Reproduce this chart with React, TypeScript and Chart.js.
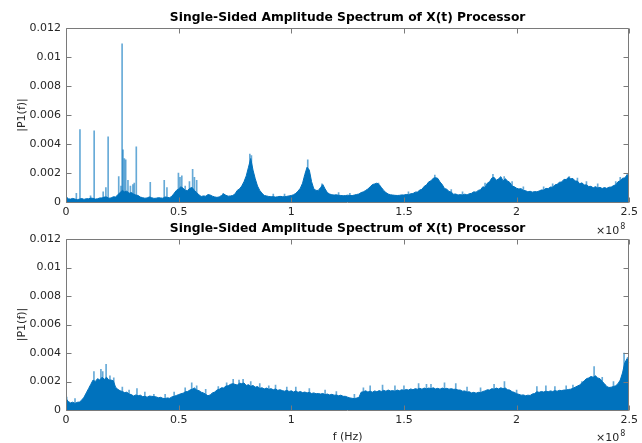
import React, { useEffect, useRef } from "react";
import { Chart, registerables } from "chart.js";

Chart.register(...registerables);

// ---------- data ----------
const TITLE = "Single-Sided Amplitude Spectrum of X(t) Processor";
const Y_LABEL = "|P1(f)|";
const X_LABEL = "f (Hz)";
const X_TICKS_E8 = [0, 0.5, 1, 1.5, 2, 2.5];
const Y_TICKS = [0, 0.002, 0.004, 0.006, 0.008, 0.01, 0.012];
const FREQ_STEP_MHZ = 1; // envelope sample spacing
const AMP_UNIT = 1e-4; // amplitudes below are in units of 1e-4

// upper subplot: spectrum envelope, 0..250 MHz every 1 MHz
const topEnvelope = [
  3, 2.2, 2, 2.5, 2, 1.6, 2, 2.4, 1.8, 2.3,
  2.2, 2.7, 2.5, 2, 2.2, 2.8, 2.8, 3.4, 3.5, 2.6,
  2.8, 3.6, 3.5, 5, 6.5, 8, 7, 7.5, 6, 6.5,
  5.5, 4.8, 4.5, 3.4, 3, 2.6, 2.8, 3.5, 3, 2.5,
  2.6, 3, 2.8, 2.6, 3.5, 3.2, 3, 4, 6, 8,
  9, 10.5, 9.5, 8, 8, 9.5, 10, 8, 6.5, 5,
  3.8, 4.2, 4, 5, 4.8, 4, 3.5, 3.2, 3.5, 4.5,
  5.5, 4.6, 4, 4.2, 4.5, 5.5, 8, 9, 11, 14,
  18, 24, 30, 22, 16, 11, 8, 6, 4.5, 4.2,
  3.8, 3.6, 3.7, 3.4, 3.6, 3.9, 3.7, 3.6, 3.9, 4.2,
  4.5, 5, 6, 7.5, 9.5, 13, 19, 24, 22, 14,
  9, 8, 8, 10, 12, 9, 6.5, 5.5, 5, 4.8,
  5, 4.6, 4.5, 4.3, 4.4, 4.7, 4.5, 4.4, 4.8, 5.2,
  5.5, 6.5, 7, 8, 9, 10.5, 12, 12.5, 13, 12,
  10, 8, 6.5, 5.5, 5, 4.8, 4.6, 4.5, 4.6, 4.9,
  4.8, 5.2, 5.0, 5.7, 5.8, 6.8, 6.9, 8.2, 8.8, 10.8,
  11.8, 13.9, 14.6, 16.4, 16.8, 16.3, 13.8, 12, 9.3, 8.8,
  7.3, 6.8, 5.4, 5.5, 4.8, 5.1, 4.8, 5.4, 4.9, 5.7,
  6, 7, 6.8, 8, 8.5, 10.5, 10, 13, 14, 16.5,
  17, 15, 16, 17.5, 14.5, 16, 14.5, 13.5, 11, 10.5,
  9.5, 9, 9.2, 8, 7.8, 7, 7.4, 6.8, 7.2, 7,
  7.6, 8.3, 8.2, 9.4, 9.2, 10.3, 10.2, 11.8, 12.2, 13.6,
  13.8, 15.6, 15.5, 17, 16, 16.2, 14.5, 14.4, 12.6, 13.2,
  11.8, 11.8, 10.7, 10.8, 9.8, 10.6, 9.7, 10.1, 9.3, 10,
  9.4, 10.2, 10.3, 11.3, 11.8, 14, 14.6, 16.4, 16.6, 18.6,
  18,
];
// upper subplot: narrow spectral lines
const topSpikeMHz = [
  0.5, 4.6, 6.2, 10.9, 12.5, 16.5, 17.7, 18.7, 23.4, 24.4, 24.9, 25.3, 25.9,
  26.5, 27.5, 28.6, 29.7, 30.3, 31.2, 37.4, 43.6, 44.8, 49.9, 50.6, 51.4, 52.9,
  54.8, 56.2, 57.0, 58.0, 63.2, 69.8, 81.6, 82.3, 92, 97, 107.3, 113.6, 121,
  126, 138.7, 152, 163.7, 171, 176, 186, 189.5, 194.5, 198, 203, 212, 216,
  223.4, 227, 231, 236, 244, 246, 249.1,
];
const topSpikeAmp = [
  3.2, 6, 50, 4.2, 49, 7, 10, 45, 17.5, 11, 109, 36, 30,
  29, 15, 11, 12, 13, 38, 13.5, 15, 10, 20, 17, 18, 11,
  14, 22.5, 17, 15, 5.3, 6, 33, 32, 5.5, 5.5, 29, 12.5, 6.5,
  6, 13, 7, 18.5, 8.5, 7, 13, 19, 17.5, 14, 10.5, 10.5, 12.5,
  17.5, 16.5, 14, 12.5, 14, 17, 19.5,
];

// lower subplot: spectrum envelope, 0..250 MHz every 1 MHz
const bottomEnvelope = [
  8, 6, 5, 5.5, 4.6, 5.4, 5.6, 7, 9, 12,
  15, 18, 21, 20, 22, 21, 23, 21.5, 23, 21,
  21, 20.5, 16, 14.5, 13.5, 13, 12.2, 12.5, 11.2, 10.8,
  9.8, 10.6, 10, 10.4, 9.4, 9.6, 9, 9.8, 9.6, 9.4,
  9.2, 8.6, 8.9, 8.2, 8.0, 8.5, 8.2, 9.2, 9.6, 10.2,
  10.8, 11.4, 11.8, 12.8, 13, 14, 14.6, 15.5, 14, 13.6,
  12.5, 12, 11, 10, 10.6, 12, 12.6, 14, 14.5, 15.6,
  15.5, 16.8, 17, 18, 18.5, 18, 17.5, 18.8, 18.5, 19,
  17.2, 17.8, 16.6, 17.2, 16, 16.5, 15.2, 15.6, 14.8, 15.4,
  14.5, 15, 14.2, 14.8, 13.8, 14.2, 13.6, 13.2, 13.8, 13,
  13.5, 12.6, 13.4, 12.4, 13, 12.2, 12.6, 12, 12.4, 11.6,
  12, 11.4, 11.6, 11.2, 11.6, 10.8, 11.2, 10.6, 11, 10.4,
  10.5, 10, 10.4, 9.6, 9.6, 9, 8.5, 8.2, 8, 8.4,
  8.8, 12.5, 12.8, 13.5, 12.6, 13.2, 12.5, 13.4, 12.8, 13.6,
  13, 13.8, 13.2, 14, 13.4, 13.6, 13.2, 14, 13.5, 14.2,
  13.8, 14.4, 14, 14.8, 14.2, 15, 14.6, 15.2, 14.6, 15.4,
  14.8, 15.4, 15, 15.6, 14.8, 15.2, 14.6, 15.4, 14.8, 15.2,
  14.6, 15, 14.5, 14.6, 14, 14, 13.2, 13.4, 12.6, 12.8,
  12, 12.4, 11.8, 12.4, 12.2, 13, 13.4, 14.2, 14, 15,
  14.6, 15.4, 14.8, 15.6, 15, 15.4, 14.2, 14, 12.8, 12.4,
  11.4, 11, 10.4, 10.6, 10, 10.4, 10.2, 11.2, 11.6, 12.8,
  12.4, 13, 12.6, 13.2, 12.8, 13.4, 13, 13.6, 13.2, 13.8,
  13.6, 14, 14, 14.4, 14.6, 15.2, 16, 16.8, 17.6, 19,
  20.5, 22, 22.5, 23.5, 23, 24, 22.5, 22, 20, 18.5,
  16.5, 15.8, 16, 16.5, 17, 18.5, 21, 26, 33, 36,
  33,
];
const bottomSpikeMHz = [
  0.3, 4, 12.4, 15.5, 16.3, 17.8, 19.5, 21.2, 25, 28, 31.5, 35, 39, 44, 48,
  52.9, 55.8, 58, 62, 67.6, 71.3, 74.2, 76.8, 78.6, 82, 86, 90, 93, 98, 102,
  108, 115, 120, 128, 132, 135, 140.5, 146, 150, 156.5, 160, 162, 168, 173,
  178, 184, 190, 194.6, 200, 209, 213, 217, 222, 225, 229, 234.4, 238, 243,
  247.7, 249.3,
];
const bottomSpikeAmp = [
  9, 8, 27, 28.5, 27, 32, 24, 22.5, 16, 14, 15, 12.5, 11, 11, 12.5,
  15.5, 19, 17, 14.5, 16.5, 19, 21.5, 21, 21.5, 20, 18.5, 17, 17.5, 16, 16,
  15, 14, 13, 11, 15.5, 17, 17.5, 17, 17, 18.5, 18, 18, 19, 18.5,
  16, 15.5, 18, 20, 14, 16.5, 17, 16.5, 17, 17.5, 20, 30.5, 23, 20,
  40, 37,
];

// ---------- style ----------
const BLUE = "#0072BD";
const SPIKE = "rgba(0,114,189,0.6)";
const TEXT = "#262626";
const AXIS = "#7a7a7a";
const FONT = "DejaVu Sans";
const W = 642;
const H = 443;

type PanelOpts = {
  envelope: number[];
  spikeMHz: number[];
  spikeAmp: number[];
  padTop: number;
  padBottom: number;
  titleBaseline: number;
  expBaseline: number;
  showXLabel: boolean;
};

const framePlugin = (o: PanelOpts) => ({
  id: "matlabFrame",
  afterDraw(chart: any) {
    const ctx = chart.ctx as CanvasRenderingContext2D;
    const { left, right, top, bottom } = chart.chartArea;
    const xs = chart.scales.x;
    const ys = chart.scales.y;
    const L = Math.round(left) + 0.5;
    const R = Math.round(right) - 0.5;
    const T = Math.round(top) + 0.5;
    const B = Math.round(bottom) + 0.5;
    ctx.save();
    ctx.strokeStyle = AXIS;
    ctx.lineWidth = 1;
    ctx.beginPath();
    ctx.moveTo(L, T);
    ctx.lineTo(R, T);
    ctx.lineTo(R, B);
    ctx.lineTo(L, B);
    ctx.closePath();
    const tl = 5;
    xs.ticks.forEach((t: any) => {
      const px = Math.round(xs.getPixelForValue(t.value)) + 0.5;
      ctx.moveTo(px, B);
      ctx.lineTo(px, B - tl);
      ctx.moveTo(px, T);
      ctx.lineTo(px, T + tl);
    });
    ys.ticks.forEach((t: any) => {
      const py = Math.round(ys.getPixelForValue(t.value)) + 0.5;
      ctx.moveTo(L, py);
      ctx.lineTo(L + tl, py);
      ctx.moveTo(R, py);
      ctx.lineTo(R - tl, py);
    });
    ctx.stroke();

    // title
    ctx.fillStyle = "#000";
    ctx.font = `bold 12.3px "${FONT}"`;
    ctx.textAlign = "center";
    ctx.textBaseline = "alphabetic";
    ctx.fillText(TITLE, (left + right) / 2, o.titleBaseline);

    // y label
    ctx.fillStyle = TEXT;
    ctx.font = `11px "${FONT}"`;
    ctx.save();
    ctx.translate(22, (top + bottom) / 2);
    ctx.rotate(-Math.PI / 2);
    ctx.textBaseline = "middle";
    ctx.fillText(Y_LABEL, 0, 0);
    ctx.restore();

    // exponent
    ctx.textAlign = "right";
    ctx.font = `11px "${FONT}"`;
    ctx.fillText("\u00d710", right - 10, o.expBaseline);
    ctx.textAlign = "left";
    ctx.font = `8px "${FONT}"`;
    ctx.fillText("8", right - 9, o.expBaseline - 5);

    if (o.showXLabel) {
      ctx.textAlign = "center";
      ctx.font = `11px "${FONT}"`;
      ctx.fillText(X_LABEL, (left + right) / 2, 440);
    }
    ctx.restore();
  },
});

function makeConfig(o: PanelOpts): any {
  const envData = o.envelope.map((v, i) => ({
    x: i * FREQ_STEP_MHZ * 1e6,
    y: v * AMP_UNIT,
  }));
  const spikeData = o.spikeMHz.map((f, i) => ({
    x: f * 1e6,
    y: o.spikeAmp[i] * AMP_UNIT,
  }));
  return {
    type: "line",
    data: {
      datasets: [
        {
          type: "line",
          data: envData,
          borderColor: BLUE,
          backgroundColor: BLUE,
          borderWidth: 1,
          pointRadius: 0,
          fill: "origin",
          tension: 0,
          order: 1,
        },
        {
          type: "bar",
          data: spikeData,
          backgroundColor: SPIKE,
          borderWidth: 0,
          barThickness: 1,
          order: 2,
        },
      ],
    },
    options: {
      animation: false,
      responsive: false,
      maintainAspectRatio: false,
      events: [],
      layout: {
        padding: { left: 0, right: 10, top: o.padTop, bottom: o.padBottom },
      },
      plugins: {
        legend: { display: false },
        tooltip: { enabled: false },
        title: { display: false },
      },
      scales: {
        x: {
          type: "linear",
          min: 0,
          max: 2.5e8,
          offset: false,
          afterBuildTicks: (s: any) => {
            s.ticks = X_TICKS_E8.map((v) => ({ value: v * 1e8 }));
          },
          afterFit: (s: any) => {
            s.height = 20;
          },
          ticks: {
            callback: (v: number) => String(Math.round((v / 1e8) * 10) / 10),
            color: TEXT,
            font: { family: FONT, size: 11 },
            padding: 4,
            maxRotation: 0,
            autoSkip: false,
          },
          grid: { display: false, drawTicks: false },
          border: { display: false },
        },
        y: {
          type: "linear",
          min: 0,
          max: 0.012,
          afterBuildTicks: (s: any) => {
            s.ticks = Y_TICKS.map((v) => ({ value: v }));
          },
          afterFit: (s: any) => {
            s.width = 66;
          },
          ticks: {
            callback: (v: number) => String(Number(v.toFixed(3))),
            color: TEXT,
            font: { family: FONT, size: 11 },
            padding: 5,
            autoSkip: false,
          },
          grid: { display: false, drawTicks: false },
          border: { display: false },
        },
      },
    },
    plugins: [framePlugin(o)],
  };
}

const topOpts: PanelOpts = {
  envelope: topEnvelope,
  spikeMHz: topSpikeMHz,
  spikeAmp: topSpikeAmp,
  padTop: 28,
  padBottom: H - 20 - 202,
  titleBaseline: 21,
  expBaseline: 234,
  showXLabel: false,
};
const bottomOpts: PanelOpts = {
  envelope: bottomEnvelope,
  spikeMHz: bottomSpikeMHz,
  spikeAmp: bottomSpikeAmp,
  padTop: 239,
  padBottom: H - 20 - 410,
  titleBaseline: 232,
  expBaseline: 441,
  showXLabel: true,
};

function Panel({ opts }: { opts: PanelOpts }) {
  const ref = useRef<HTMLCanvasElement | null>(null);
  useEffect(() => {
    if (!ref.current) return;
    const chart = new Chart(ref.current, makeConfig(opts));
    return () => chart.destroy();
  }, [opts]);
  return (
    <canvas
      ref={ref}
      width={W}
      height={H}
      style={{ position: "absolute", left: 0, top: 0, width: W, height: H }}
    />
  );
}

export default function App() {
  return (
    <div
      style={{
        position: "fixed",
        left: 0,
        top: 0,
        width: W,
        height: H,
        background: "#fff",
        overflow: "hidden",
      }}
    >
      <Panel opts={topOpts} />
      <Panel opts={bottomOpts} />
    </div>
  );
}
